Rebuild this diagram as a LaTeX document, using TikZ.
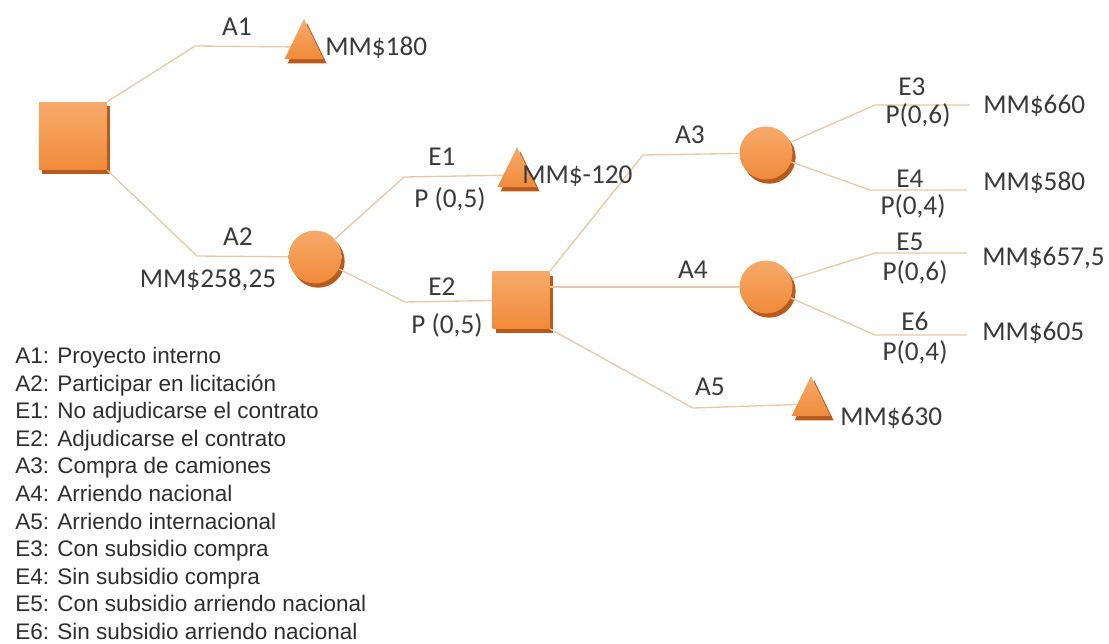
\documentclass[tikz,border=0pt]{standalone}
\usepackage{fontspec}
\setmainfont{Carlito}
\newfontfamily\legendfont{Liberation Sans}
\usetikzlibrary{shapes.geometric,shadows}
\definecolor{nodeorange}{HTML}{F08A3A}
\definecolor{nodelight}{HTML}{F7AA6A}
\definecolor{nodedark}{HTML}{B85A1C}
\definecolor{branchtan}{HTML}{E8C8A2}
\definecolor{labelgray}{HTML}{3A3A3A}
\definecolor{legendgray}{HTML}{2E2E2E}

\begin{document}
\begin{tikzpicture}[x=0.02cm, y=-0.02cm,
    font=\fontsize{15.5}{18}\selectfont, text=labelgray,
    shaded/.style={top color=nodelight, bottom color=nodeorange, draw=none,
      drop shadow={shadow xshift=1.8pt, shadow yshift=-2.4pt, fill=nodedark, opacity=1}},
    decision/.style={shaded, rectangle, minimum size=1.36cm, inner sep=0pt},
    chance/.style={shaded, circle, minimum size=1.06cm, inner sep=0pt},
    payoff/.style={shaded, isosceles triangle, shape border rotate=90,
      isosceles triangle stretches, minimum width=0.78cm, minimum height=0.8cm, inner sep=0pt},
    branch/.style={draw=branchtan, line width=0.75pt},
    lbl/.style={anchor=base, inner sep=0pt},
    val/.style={anchor=base west, inner sep=0pt}]
    \useasboundingbox (0,0) rectangle (1109,643);

    % nodes of the tree
    \node[decision] (root) at (73,136) {};
    \node[payoff] (t1) at (304,47) {};
    \node[chance] (c1) at (315,257) {};
    \node[payoff] (t2) at (517,175) {};
    \node[decision, minimum size=1.14cm] (d2) at (521,300) {};
    \node[chance] (c3) at (766,153) {};
    \node[chance] (c4) at (766,287) {};
    \node[payoff] (t5) at (811,404) {};

    % bends and loose ends of the branches
    \coordinate (a1bend) at (195,46);
    \coordinate (a2bend) at (197,256);
    \coordinate (e1bend) at (404,177);
    \coordinate (e2bend) at (405,302);
    \coordinate (a3bend) at (643,155);
    \coordinate (a5bend) at (693,408);
    \coordinate (e3bend) at (875,105);
    \coordinate (e3end) at (970,105);
    \coordinate (e4bend) at (870,190);
    \coordinate (e4end) at (967,190);
    \coordinate (e5bend) at (875,253);
    \coordinate (e5end) at (967,253);
    \coordinate (e6bend) at (875,335);
    \coordinate (e6end) at (967,335);

    \draw[branch] (root.north east) -- (a1bend) -- (t1);
    \draw[branch] (root.south east) -- (a2bend) -- (c1);
    \draw[branch] (c1) -- (e1bend) -- (t2);
    \draw[branch] (c1) -- (e2bend) -- (d2);
    \draw[branch] (d2.north east) -- (a3bend) -- (c3);
    \draw[branch] (d2.east |- c4) -- (c4);
    \draw[branch] (d2.south east) -- (a5bend) -- (t5);
    \draw[branch] (c3) -- (e3bend) -- (e3end);
    \draw[branch] (c3) -- (e4bend) -- (e4end);
    \draw[branch] (c4) -- (e5bend) -- (e5end);
    \draw[branch] (c4) -- (e6bend) -- (e6end);

    % labels
    \node[lbl] (la1) at (237,35) {A1};
    \node[val] (v1) at (325,55) {MM\$180};
    \node[lbl] (la2) at (238,245) {A2};
    \node[lbl] (ev) at (208,287) {MM\$258,25};
    \node[lbl] (le1) at (442,165) {E1};
    \node[lbl] (pe1) at (450,207) {P (0,5)};
    \node[val] (v2) at (522,183) {MM\$-120};
    \node[lbl] (le2) at (442,295) {E2};
    \node[lbl] (pe2) at (447,333) {P (0,5)};
    \node[lbl] (la3) at (690,143) {A3};
    \node[lbl] (la4) at (693,278) {A4};
    \node[lbl] (la5) at (710,395) {A5};
    \node[val] (v5) at (840,425) {MM\$630};
    \node[lbl] (le3) at (912,95) {E3};
    \node[lbl] (pe3) at (918,123) {P(0,6)};
    \node[val] (v3) at (983,113) {MM\$660};
    \node[lbl] (le4) at (910,187) {E4};
    \node[lbl] (pe4) at (913,214) {P(0,4)};
    \node[val] (v4) at (983,190) {MM\$580};
    \node[lbl] (le5) at (910,250) {E5};
    \node[lbl] (pe5) at (915,280) {P(0,6)};
    \node[val] (v6) at (982,265) {MM\$657,5};
    \node[lbl] (le6) at (915,330) {E6};
    \node[lbl] (pe6) at (915,360) {P(0,4)};
    \node[val] (v7) at (982,340) {MM\$605};

    % legend
    \node[anchor=north west, inner sep=0pt, align=left, text=legendgray,
      font=\legendfont\fontsize{12.8}{15.7}\selectfont] (legend) at (15,347) {%
      A1: Proyecto interno\\
      A2: Participar en licitación\\
      E1: No adjudicarse el contrato\\
      E2: Adjudicarse el contrato\\
      A3: Compra de camiones\\
      A4: Arriendo nacional\\
      A5: Arriendo internacional\\
      E3: Con subsidio compra\\
      E4: Sin subsidio compra\\
      E5: Con subsidio arriendo nacional\\
      E6: Sin subsidio arriendo nacional};
\end{tikzpicture}
\end{document}
